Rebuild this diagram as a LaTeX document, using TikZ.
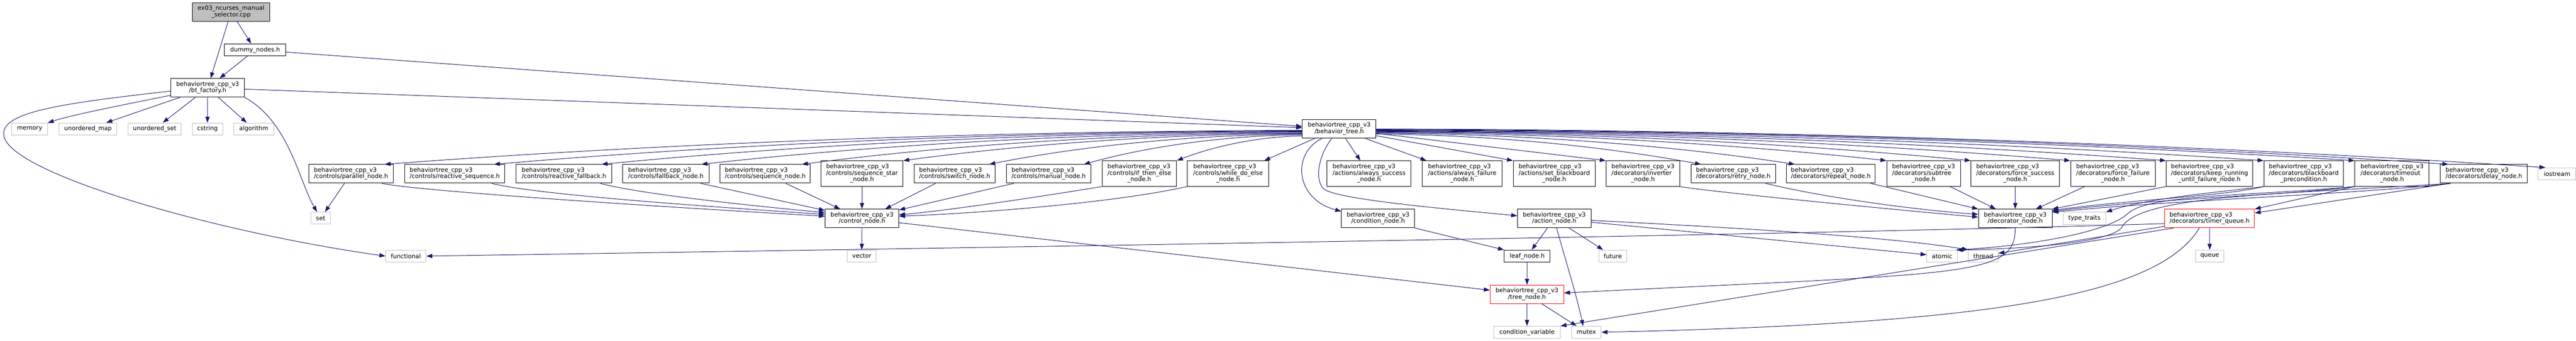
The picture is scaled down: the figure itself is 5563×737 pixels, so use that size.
\documentclass[tikz,border=0pt]{standalone}
\usepackage{fontspec}
\setmainfont{DejaVu Sans}
\usetikzlibrary{arrows.meta}
\definecolor{edgec}{HTML}{191970}
\definecolor{grayb}{HTML}{BFBFBF}
\newcommand\twol[2]{\begin{tabular}{@{}l@{}}#1\\\multicolumn{1}{@{}c@{}}{#2}\end{tabular}}
\newcommand\threel[3]{\begin{tabular}{@{}l@{}}#1\\#2\\\multicolumn{1}{@{}c@{}}{#3}\end{tabular}}
\newcommand\btv{behaviortree\_cpp\_v3}
\tikzset{
  basebox/.style={rectangle, inner sep=0pt, line width=1.1pt, font=\fontsize{13}{14}\selectfont},
  filebox/.style={basebox, draw=black, fill=white},
  sysbox/.style={basebox, draw=grayb, fill=white},
  truncbox/.style={basebox, draw=red, fill=white},
  rootbox/.style={basebox, draw=black, fill=grayb},
  sz/.style 2 args={minimum width=#1pt, minimum height=#2pt},
  dep/.style={draw=edgec, line width=1.1pt, -{Triangle[length=13pt,width=9pt]}}
}
\begin{document}
\begin{tikzpicture}[x=1pt,y=-1pt]
\fill[white] (0,0) rectangle (5563,737);
\useasboundingbox (0,0) rectangle (5563,737);
% ---------- nodes ----------
\node[rootbox, sz={166}{40}] (root) at (499,26) {\twol{ex03\_ncurses\_manual}{\_selector.cpp}};
\node[filebox, sz={132}{26}] (dummy) at (551,108) {dummy\_nodes.h};
\node[filebox, sz={159}{40}] (btf) at (448.5,190) {\twol{\btv}{/bt\_factory.h}};
\node[sysbox, sz={77}{26}] (memory) at (64,279) {memory};
\node[sysbox, sz={125}{26}] (umap) at (190,279) {unordered\_map};
\node[sysbox, sz={115}{26}] (uset) at (334,279) {unordered\_set};
\node[sysbox, sz={66}{26}] (cstring) at (448,279) {cstring};
\node[sysbox, sz={86}{26}] (algorithm) at (548,279) {algorithm};
\node[filebox, sz={159}{40}] (btree) at (2892,279) {\twol{\btv}{/behavior\_tree.h}};
\node[filebox, sz={182}{40}] (par) at (758,376) {\twol{\btv}{/controls/parallel\_node.h}};
\node[filebox, sz={216}{40}] (rseq) at (982,376) {\twol{\btv}{/controls/reactive\_sequence.h}};
\node[filebox, sz={207}{40}] (rfb) at (1218,376) {\twol{\btv}{/controls/reactive\_fallback.h}};
\node[filebox, sz={186}{40}] (fb) at (1438,376) {\twol{\btv}{/controls/fallback\_node.h}};
\node[filebox, sz={195}{40}] (seq) at (1652.5,376) {\twol{\btv}{/controls/sequence\_node.h}};
\node[filebox, sz={177}{55}] (seqstar) at (1861.5,375.5) {\threel{\btv}{/controls/sequence\_star}{\_node.h}};
\node[filebox, sz={174}{40}] (switch) at (2061.6,376) {\twol{\btv}{/controls/switch\_node.h}};
\node[filebox, sz={183}{40}] (manual) at (2264.6,376) {\twol{\btv}{/controls/manual\_node.h}};
\node[filebox, sz={161}{55}] (ite) at (2460.5,375.5) {\threel{\btv}{/controls/if\_then\_else}{\_node.h}};
\node[filebox, sz={175}{55}] (wde) at (2652,375.5) {\threel{\btv}{/controls/while\_do\_else}{\_node.h}};
\node[filebox, sz={181}{55}] (succ) at (2956.5,375.5) {\threel{\btv}{/actions/always\_success}{\_node.h}};
\node[filebox, sz={172}{55}] (fail) at (3157.7,375.5) {\threel{\btv}{/actions/always\_failure}{\_node.h}};
\node[filebox, sz={177}{55}] (setbb) at (3356.4,375.5) {\threel{\btv}{/actions/set\_blackboard}{\_node.h}};
\node[filebox, sz={159}{55}] (inv) at (3548,375.5) {\threel{\btv}{/decorators/inverter}{\_node.h}};
\node[filebox, sz={182}{40}] (retry) at (3743,376) {\twol{\btv}{/decorators/retry\_node.h}};
\node[filebox, sz={192}{40}] (repeat) at (3953.7,376) {\twol{\btv}{/decorators/repeat\_node.h}};
\node[filebox, sz={159}{55}] (subtree) at (4154,375.5) {\threel{\btv}{/decorators/subtree}{\_node.h}};
\node[filebox, sz={191}{55}] (fsucc) at (4352,375.5) {\threel{\btv}{/decorators/force\_success}{\_node.h}};
\node[filebox, sz={183}{55}] (ffail) at (4563,375.5) {\threel{\btv}{/decorators/force\_failure}{\_node.h}};
\node[filebox, sz={187}{55}] (keep) at (4771.6,375.5) {\threel{\btv}{/decorators/keep\_running}{\_until\_failure\_node.h}};
\node[filebox, sz={172}{55}] (bbpre) at (4975,375.5) {\threel{\btv}{/decorators/blackboard}{\_precondition.h}};
\node[filebox, sz={160}{55}] (timeout) at (5165.6,375.5) {\threel{\btv}{/decorators/timeout}{\_node.h}};
\node[filebox, sz={188}{40}] (delay) at (5364,376) {\twol{\btv}{/decorators/delay\_node.h}};
\node[sysbox, sz={81}{26}] (iostream) at (5522,376) {iostream};
\node[sysbox, sz={43}{26}] (set) at (692.5,472) {set};
\node[filebox, sz={159}{40}] (ctrl) at (1861.5,472.7) {\twol{\btv}{/control\_node.h}};
\node[filebox, sz={158}{40}] (cond) at (2976,472.7) {\twol{\btv}{/condition\_node.h}};
\node[filebox, sz={159}{40}] (action) at (3356.5,472.7) {\twol{\btv}{/action\_node.h}};
\node[filebox, sz={159}{40}] (dec) at (4352,472.7) {\twol{\btv}{/decorator\_node.h}};
\node[sysbox, sz={92}{26}] (typetraits) at (4501.4,472.3) {type\_traits};
\node[truncbox, sz={194}{40}] (timerq) at (4771.6,472.7) {\twol{\btv}{/decorators/timer\_queue.h}};
\node[sysbox, sz={87}{26}] (functional) at (876.5,554) {functional};
\node[sysbox, sz={63}{26}] (vector) at (1861,554) {vector};
\node[filebox, sz={99}{26}] (leaf) at (3298,554) {leaf\_node.h};
\node[sysbox, sz={61}{26}] (future) at (3483,554) {future};
\node[sysbox, sz={66}{26}] (atomic) at (4194,554) {atomic};
\node[sysbox, sz={64}{26}] (thread) at (4283,554) {thread};
\node[sysbox, sz={62}{26}] (queue) at (4772,554) {queue};
\node[truncbox, sz={159}{40}] (treenode) at (3297.5,636.7) {\twol{\btv}{/tree\_node.h}};
\node[sysbox, sz={143}{26}] (condvar) at (3297.7,718.7) {condition\_variable};
\node[sysbox, sz={64}{26}] (mutex) at (3425.8,718.7) {mutex};
% ---------- edges ----------
\draw[dep] (root) -- (dummy);
\draw[dep] (root) -- (btf);
\draw[dep] (dummy) -- (btf);
\draw[dep] (dummy) -- (btree);
\draw[dep] (btf) -- (btree);
\draw[dep] (btf) .. controls (250,230) and (150,250) .. (memory);
\draw[dep] (btf) -- (umap);
\draw[dep] (btf) -- (uset);
\draw[dep] (btf) -- (cstring);
\draw[dep] (btf) -- (algorithm);
\draw[dep] (btf.south east) .. controls (625,265) and (645,390) .. (set);
\draw[dep] ([yshift=-7pt]btf.west) .. controls (150,222) and (5,240) .. (8,290) .. controls (8,370) and (450,500) .. (functional.west);
% behavior_tree -> left fan
\draw[dep] ([yshift=-3pt]btree.west) .. controls (2019.5,284) and (1325.6,318) .. ([xshift=-19pt]par.north east);
\draw[dep] ([yshift=-4pt]btree.west) .. controls (2113.9,285) and (1502.6,318) .. ([xshift=-24pt]rseq.north east);
\draw[dep] ([yshift=-5pt]btree.west) .. controls (2206.7,286) and (1676.6,318.5) .. ([xshift=-23pt]rfb.north east);
\draw[dep] ([yshift=-6.5pt]btree.west) .. controls (2293.1,287.5) and (1838.6,319.25) .. ([xshift=-17pt]fb.north east);
\draw[dep] ([yshift=-8pt]btree.west) .. controls (2380,289) and (2001.4,320) .. ([xshift=-19pt]seq.north east);
\draw[dep] ([yshift=-9.5pt]btree.west) .. controls (2467.5,290.5) and (2165.6,318.25) .. (seqstar.north east);
\draw[dep] ([yshift=-11pt]btree.west) .. controls (2542,292) and (2305,321.5) .. ([xshift=-13pt]switch.north east);
\draw[dep] ([yshift=-12.5pt]btree.west) .. controls (2623.5,293.5) and (2458,322.25) .. ([xshift=-16pt]manual.north east);
\draw[dep] ([yshift=-15pt]btree.west) .. controls (2704,296) and (2609,321) .. (ite.north east);
\draw[dep] ([xshift=27pt]btree.south west) -- ([xshift=-10pt]wde.north east);
% behavior_tree -> below / right
\draw[dep] ([xshift=-37pt]btree.south) .. controls (2790,330) and (2795,430) .. ([yshift=-5pt]cond.north west);
\draw[dep] ([xshift=-16pt]btree.south) .. controls (2845,340) and (2840,390) .. (2858,408) .. controls (2880,430) and (3100,450) .. ([yshift=6pt]action.west);
\draw[dep] (btree) -- (succ);
\draw[dep] (btree) -- (fail);
\draw[dep] (btree) -- (setbb.north west);
\draw[dep] (btree) -- (inv.north west);
\draw[dep] ([yshift=-11pt]btree.east) .. controls (3252.8,292) and (3498.5,323) .. ([xshift=22pt]retry.north west);
\draw[dep] ([yshift=-9pt]btree.east) .. controls (3334,290) and (3650.75,320.5) .. ([xshift=19pt]repeat.north west);
\draw[dep] ([yshift=-7.5pt]btree.east) .. controls (3413,288.5) and (3799,317.25) .. (subtree.north west);
\draw[dep] ([yshift=-6pt]btree.east) .. controls (3486,287) and (3935.6,316.5) .. (fsucc.north west);
\draw[dep] ([yshift=-5pt]btree.east) .. controls (3572,286) and (4097,316) .. (ffail.north west);
\draw[dep] ([yshift=-4pt]btree.east) .. controls (3654.4,285) and (4251.5,315.5) .. (keep.north west);
\draw[dep] ([yshift=-3pt]btree.east) .. controls (3738.8,284) and (4409.75,315) .. (bbpre.north west);
\draw[dep] ([yshift=-2pt]btree.east) .. controls (3817.5,283) and (4557.35,314.5) .. (timeout.north west);
\draw[dep] ([yshift=-1pt]btree.east) .. controls (3898.4,282) and (4709,316.5) .. ([xshift=18pt]delay.north west);
\draw[dep] (btree.east) .. controls (3982.4,281) and (4866.5,321) .. ([xshift=16pt]iostream.north west);
% controls -> control_node
\draw[dep] (par) -- (set);
\draw[dep] ([xshift=-25pt]par.south east) .. controls (880,410) and (1300,440) .. ([yshift=5pt]ctrl.west);
\draw[dep] ([xshift=-29pt]rseq.south east) .. controls (1150,420) and (1500,445) .. ([yshift=9pt]ctrl.west);
\draw[dep] ([xshift=-26pt]rfb.south east) .. controls (1380,420) and (1650,448) .. ([yshift=13pt]ctrl.west);
\draw[dep] ([xshift=-19pt]fb.south east) -- ([yshift=-3pt]ctrl.north west);
\draw[dep] ([xshift=-54pt]seq.south east) -- ([xshift=-47pt]ctrl.north);
\draw[dep] (seqstar) -- (ctrl);
\draw[dep] ([xshift=-41pt]switch.south) -- ([xshift=50pt]ctrl.north);
\draw[dep] ([xshift=-75pt]manual.south) -- ([yshift=-2pt]ctrl.north east);
\draw[dep] (ite.south west) .. controls (2250,425) and (2050,455) .. ([yshift=8pt]ctrl.east);
\draw[dep] (wde.south west) .. controls (2400,440) and (2100,462) .. ([yshift=5pt]ctrl.east);
\draw[dep] (ctrl) -- (vector);
\draw[dep] (ctrl) -- (treenode);
% condition / action
\draw[dep] (cond.south east) -- (leaf.north west);
\draw[dep] (action) -- (leaf);
\draw[dep] (action) -- (future);
\draw[dep] ([xshift=5pt]action.south) .. controls (3380,560) and (3405,640) .. ([xshift=-7pt]mutex.north);
\draw[dep] ([yshift=-8pt]action.east) -- ([yshift=3pt]atomic.west);
\draw[dep] ([yshift=-4pt]action.east) .. controls (3800,495) and (4100,515) .. (thread.north west);
\draw[dep] (leaf) -- (treenode);
\draw[dep] (treenode) -- (condvar);
\draw[dep] (treenode) -- (mutex);
% decorators -> decorator_node
\draw[dep] ([xshift=-1pt]inv.south east) .. controls (3700,415) and (4000,445) .. ([yshift=3pt]dec.west);
\draw[dep] ([xshift=-22pt]retry.south east) .. controls (3950,430) and (4150,455) .. ([yshift=9pt]dec.west);
\draw[dep] (repeat) -- (dec.north west);
\draw[dep] (subtree) -- (dec);
\draw[dep] (fsucc) -- (dec);
\draw[dep] (ffail) -- (dec);
\draw[dep] (keep.south west) -- (dec.north east);
\draw[dep] (bbpre.south west) .. controls (4800,425) and (4600,432) .. ([yshift=-3pt]dec.north east);
\draw[dep] (timeout.south west) .. controls (4950,422) and (4650,430) .. ([yshift=-5pt]dec.north east);
\draw[dep] ([xshift=23pt]delay.south west) .. controls (5100,420) and (4700,432) .. ([yshift=-7pt]dec.north east);
\draw[dep] (bbpre.south west) .. controls (4800,415) and (4640,428) .. (typetraits.north east);
\draw[dep] (dec) .. controls (4352,600) and (4250,590) .. ([yshift=3pt]treenode.east);
% timer queue
\draw[dep] (timeout.south west) -- (timerq.north east);
\draw[dep] ([xshift=23pt]delay.south west) -- ([yshift=12pt]timerq.east);
\draw[dep] (timeout.south west) .. controls (4850,425) and (4640,420) .. (4595,462) .. controls (4555,500) and (4400,530) .. (atomic.north east);
\draw[dep] ([xshift=23pt]delay.south west) .. controls (4950,420) and (4620,420) .. (4582,492) .. controls (4560,522) and (4400,538) .. ([xshift=-3pt]atomic.north east);
\draw[dep] ([yshift=-11pt]timerq.west) .. controls (4000,505) and (2500,530) .. (functional.east);
\draw[dep] ([yshift=-17pt]timerq.west) -- ([yshift=6pt]thread.east);
\draw[dep] ([xshift=20pt]timerq.south west) -- (condvar.north east);
\draw[dep] ([xshift=-22pt]timerq.south) .. controls (4660,640) and (4300,700) .. (mutex.east);
\draw[dep] (timerq) -- (queue);
\end{tikzpicture}
\end{document}
